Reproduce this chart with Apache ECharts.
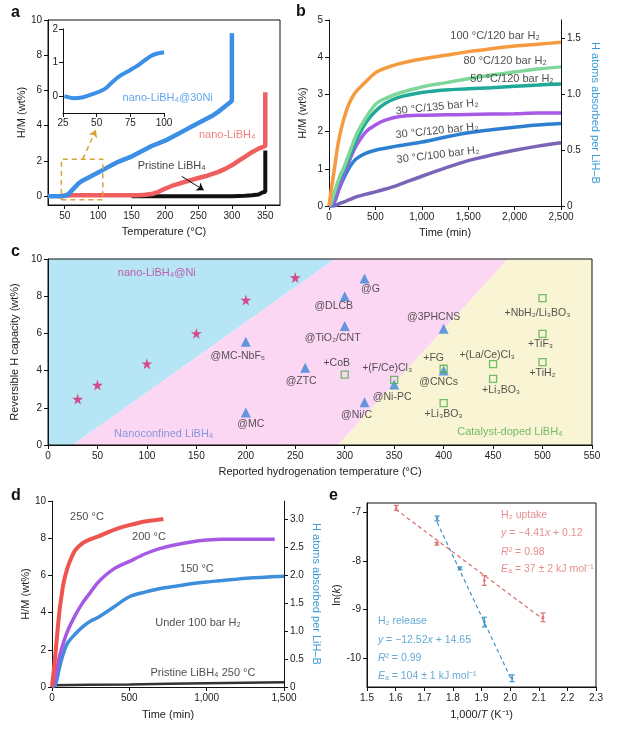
<!DOCTYPE html>
<html><head><meta charset="utf-8">
<script src="https://cdn.jsdelivr.net/npm/echarts@6/dist/echarts.min.js"></script>
<style>html,body{margin:0;padding:0;background:#fff}#c{width:627px;height:732px}</style>
</head><body><div id="c"></div>
<script>
// ---------- Panel a data ----------
const aBlueX = [25,30,35,40,45,50,55,60,65,70,75,80,85,90,95,100,110,120,130,140,150,160,170,180,190,200,210,220,230,240,250,260,270,280,290,300,300];
const aBlueY = [0,0,0,0,0,0.02,0.1,0.3,0.5,0.7,0.85,0.95,1.05,1.15,1.25,1.35,1.55,1.75,1.95,2.1,2.25,2.45,2.65,2.85,3.0,3.15,3.35,3.55,3.75,3.95,4.15,4.35,4.55,4.8,5.1,5.4,9.25];
const aRedX = [40,60,80,100,120,140,160,170,180,190,200,210,220,230,240,250,260,270,280,290,300,310,320,330,340,350,350];
const aRedY = [0,0.05,0.05,0.05,0.05,0.05,0.06,0.08,0.12,0.25,0.42,0.58,0.7,0.82,0.93,1.03,1.13,1.25,1.38,1.55,1.75,2.0,2.25,2.5,2.7,2.85,5.9];
const aBlackX = [150,200,250,300,320,330,340,345,350,350];
const aBlackY = [0,0,0,0,0.02,0.05,0.1,0.2,0.25,2.6];
const inBlueX = [26,32.5,40,47.5,53.8,57.5,61.3,67.5,73.8,80,85,90,95,100];
const inBlueY = [0,-0.06,-0.03,0.07,0.17,0.26,0.41,0.61,0.75,0.9,1.05,1.19,1.27,1.31];
const aTicksX = [50,100,150,200,250,300,350];
const aTicksY = [0,2,4,6,8,10];
const inTicksY = [0,1,2];
const aZoomBox = [[45,-0.2],[107,-0.2],[107,2.1],[45,2.1],[45,-0.2]];

// ---------- Panel b data ----------
const bTime = [0,25,50,75,100,125,150,200,250,300,400,500,600,750,1000,1250,1500,1750,2000,2250,2500];
const b100C120 = [0,0.45,0.85,1.3,1.7,2.0,2.25,2.65,2.92,3.1,3.35,3.58,3.7,3.82,3.95,4.05,4.15,4.23,4.3,4.35,4.4];
const b80C120 = [0,0.1,0.3,0.5,0.68,0.85,0.97,1.3,1.63,1.95,2.38,2.73,2.88,3.03,3.2,3.31,3.42,3.52,3.6,3.68,3.74];
const b50C120 = [0,0.08,0.25,0.45,0.62,0.78,0.9,1.2,1.5,1.8,2.25,2.55,2.75,2.92,3.05,3.12,3.15,3.18,3.22,3.25,3.28];
const b30C135 = [0,0.02,0.1,0.25,0.42,0.6,0.78,1.1,1.4,1.65,2.0,2.18,2.3,2.4,2.44,2.45,2.46,2.47,2.48,2.5,2.5];
const b30C120 = [0,0,0.05,0.2,0.4,0.55,0.7,0.95,1.15,1.28,1.42,1.5,1.55,1.62,1.72,1.85,1.97,2.05,2.12,2.18,2.22];
const b30C100 = [0,0,0,0.02,0.05,0.08,0.1,0.15,0.2,0.25,0.32,0.38,0.45,0.57,0.8,1.02,1.22,1.37,1.5,1.61,1.7];
const bRightTicks = [0,0.5,1.0,1.5];

// ---------- Panel c data ----------
const cStarX = [30,50,100,150,200,250];
const cStarY = [2.47,3.22,4.37,6.0,7.8,9.0];
const cTriNames = ['@G','@DLCB','@TiO₂/CNT','@3PHCNS','@MC-NbF₅','@ZTC','@MC','@Ni/C','@Ni-PC','@CNCs'];
const cTriX = [320,300,300,400,200,260,200,320,350,400];
const cTriY = [8.95,8.0,6.4,6.25,5.55,4.15,1.75,2.3,3.25,4.0];
const cSqNames = ['+CoB','+(F/Ce)Cl₃','+FG','+Li₃BO₃','+(La/Ce)Cl₃','+Li₃BO₃','+NbH₂/Li₃BO₃','+TiF₃','+TiH₂'];
const cSqX = [300,350,400,400,450,450,500,500,500];
const cSqY = [3.78,3.5,4.1,2.25,4.35,3.55,7.9,5.97,4.46];
const cRegionBlue = [[0,0],[25,0],[290,10],[0,10]];
const cRegionPink = [[25,0],[293,0],[465,10],[290,10]];
const cRegionYellow = [[293,0],[550,0],[550,10],[465,10]];

// ---------- Panel d data ----------
const d250X = [0,10,20,30,40,50,60,75,100,125,150,200,250,300,400,500,600,700,720];
const d250Y = [0,0.8,1.6,2.5,3.4,4.2,4.8,5.6,6.4,6.95,7.35,7.75,7.95,8.1,8.45,8.7,8.9,9.0,9.03];
const d200X = [0,10,20,30,50,75,100,150,200,250,300,400,500,600,700,800,900,1000,1100,1200,1300,1440];
const d200Y = [0,0.15,0.45,0.9,1.7,2.4,3.0,3.85,4.55,5.1,5.65,6.35,6.75,7.15,7.45,7.65,7.8,7.9,7.95,7.95,7.95,7.95];
const d150X = [0,20,30,50,75,100,150,200,250,300,400,500,600,700,800,900,1000,1100,1200,1300,1400,1500];
const d150Y = [0,0.1,0.35,1.1,1.85,2.35,2.85,3.25,3.55,3.75,4.3,4.85,5.1,5.3,5.42,5.55,5.65,5.72,5.8,5.87,5.92,5.95];
const dPristX = [0,250,500,750,1000,1250,1500];
const dPristY = [0.1,0.12,0.14,0.17,0.2,0.23,0.25];
const dRightTicks = [0,0.5,1.0,1.5,2.0,2.5,3.0];

// ---------- Panel e data ----------
const eUpX = [1.602,1.744,1.91,2.115];
const eUpY = [-6.9,-7.64,-8.4,-9.16];
const eUpErr = [0.05,0.03,0.1,0.09];
const eRelX = [1.745,1.825,1.91,2.007];
const eRelY = [-7.12,-8.15,-9.26,-10.42];
const eRelErr = [0.05,0.03,0.1,0.07];
const eUpFit = [[1.6,-6.93],[2.115,-9.2]];
const eRelFit = [[1.745,-7.2],[2.007,-10.48]];
const eTicksX = [1.5,1.6,1.7,1.8,1.9,2.0,2.1,2.2,2.3];
const eTicksY = [-10,-9,-8,-7];

// ---------- helpers ----------
const FF = 'Liberation Sans, Arial, sans-serif';
const pair = (xs, ys) => xs.map((x, i) => [x, ys[i]]);
function axis(o) {
  const base = {
    type: 'value', scale: false,
    axisLine: {show: true, onZero: false, lineStyle: {color: '#111', width: 1}},
    axisTick: {show: true, length: 4, inside: false, lineStyle: {color: '#111'}},
    axisLabel: {color: '#222', fontSize: 10, fontFamily: FF, margin: 6},
    splitLine: {show: false},
    nameLocation: 'middle',
    nameTextStyle: {color: '#222', fontSize: 11, fontFamily: FF}
  };
  const r = Object.assign({}, base, o);
  if (o.axisLabel) r.axisLabel = Object.assign({}, base.axisLabel, o.axisLabel);
  if (o.axisTick) r.axisTick = Object.assign({}, base.axisTick, o.axisTick);
  if (o.nameTextStyle) r.nameTextStyle = Object.assign({}, base.nameTextStyle, o.nameTextStyle);
  return r;
}
function line(xi, yi, data, color, width, extra) {
  return Object.assign({type: 'line', xAxisIndex: xi, yAxisIndex: yi, data: data, showSymbol: false, symbol: 'none',
    smooth: 0.3, lineStyle: {color: color, width: width}, itemStyle: {color: color}, silent: true, z: 3}, extra || {});
}
function texts(xi, yi, items) {
  return {type: 'scatter', xAxisIndex: xi, yAxisIndex: yi, symbolSize: 0.1, silent: true, z: 20,
    itemStyle: {color: 'transparent'},
    data: items.map(t => ({value: [t.x, t.y], label: Object.assign({show: true, position: 'inside', formatter: t.text,
      color: t.color || '#222', fontSize: t.size || 11, fontFamily: FF, rotate: t.rotate || 0, align: t.align || 'center',
      rich: t.rich || {}}, t.extra || {})}))};
}
const labelItems = (names, xs, ys, offs) => names.map((n, i) => ({
  value: [xs[i], ys[i]],
  label: {show: true, position: 'inside', formatter: n, offset: offs[i], color: '#2a2a2a', fontSize: 10.5, fontFamily: FF}
}));
const starPath = 'path://M50,0 L61,35 L98,35 L68,57 L79,91 L50,70 L21,91 L32,57 L2,35 L39,35 Z';
const triOffsets = [[6,11],[-11,10],[-12,12],[-10,-12],[-8,14],[-4,13],[5,12],[-8,13],[-2,13],[-5,12]];
const sqOffsets = [[-8,-12],[-7,-12],[-10,-11],[0,11],[-6,-9],[8,11],[-5,15],[-2,10],[0,11]];
const ES = 10.5;
const italicRich = (c) => ({i: {fontStyle: 'italic', color: c, fontSize: ES, fontFamily: FF}, n: {color: c, fontSize: ES, fontFamily: FF}});

const chart = echarts.init(document.getElementById('c'), null, {renderer: 'canvas'});
const option = {
  backgroundColor: '#fff',
  animation: false,
  grid: [
    {left: 48, top: 20, width: 232, height: 185, show: true, borderColor: '#111', borderWidth: 1, backgroundColor: 'transparent', containLabel: false},
    {left: 63, top: 29, width: 101, height: 84, containLabel: false},
    {left: 329, top: 20, width: 232, height: 186, containLabel: false},
    {left: 48, top: 259, width: 544, height: 186, show: true, borderColor: '#111', borderWidth: 1, backgroundColor: 'transparent', z: 10, containLabel: false},
    {left: 52, top: 501, width: 232, height: 186, containLabel: false},
    {left: 367, top: 503, width: 229, height: 184, show: true, borderColor: '#111', borderWidth: 1, backgroundColor: 'transparent', containLabel: false}
  ],
  xAxis: [
    axis({gridIndex: 0, min: 25, max: 372, name: 'Temperature (°C)', nameGap: 21,
      axisLabel: {customValues: aTicksX}, axisTick: {customValues: aTicksX}}),
    axis({gridIndex: 1, min: 25, max: 100, interval: 25, axisLabel: {margin: 5}}),
    axis({gridIndex: 2, min: 0, max: 2500, interval: 500, name: 'Time (min)', nameGap: 21}),
    axis({gridIndex: 3, min: 0, max: 550, interval: 50, z: 10, name: 'Reported hydrogenation temperature (°C)', nameGap: 21}),
    axis({gridIndex: 4, min: 0, max: 1500, interval: 500, name: 'Time (min)', nameGap: 22}),
    axis({gridIndex: 5, min: 1.5, max: 2.3, name: '1,000/{i|T} (K⁻¹)', nameGap: 22,
      nameTextStyle: {rich: {i: {fontStyle: 'italic', fontSize: 11, fontFamily: FF, color: '#222'}}},
      axisLabel: {customValues: eTicksX, formatter: v => v.toFixed(1)}, axisTick: {customValues: eTicksX}})
  ],
  yAxis: [
    axis({gridIndex: 0, min: -0.5, max: 10, name: 'H/M (wt%)', nameGap: 19,
      axisLabel: {customValues: aTicksY}, axisTick: {customValues: aTicksY}}),
    axis({gridIndex: 1, min: -0.5, max: 2, axisLabel: {customValues: inTicksY, margin: 5}, axisTick: {customValues: inTicksY}}),
    axis({gridIndex: 2, min: 0, max: 5, interval: 1, name: 'H/M (wt%)', nameGap: 21}),
    axis({gridIndex: 2, position: 'right', min: 0, max: 1.661, name: 'H atoms absorbed per LiH–B', nameGap: 29, nameRotate: -90,
      nameTextStyle: {color: '#3a9ad9'},
      axisLabel: {customValues: bRightTicks, formatter: v => v === 0 ? '0' : v.toFixed(1)}, axisTick: {customValues: bRightTicks}}),
    axis({gridIndex: 3, min: 0, max: 10, interval: 2, z: 10, name: 'Reversible H capacity (wt%)', nameGap: 23}),
    axis({gridIndex: 4, min: 0, max: 10, interval: 2, name: 'H/M (wt%)', nameGap: 18}),
    axis({gridIndex: 4, position: 'right', min: 0, max: 3.32, name: 'H atoms absorbed per LiH–B', nameGap: 27, nameRotate: -90,
      nameTextStyle: {color: '#3a9ad9'},
      axisLabel: {customValues: dRightTicks, formatter: v => v === 0 ? '0' : v.toFixed(1)}, axisTick: {customValues: dRightTicks}}),
    axis({gridIndex: 5, min: -10.6, max: -6.8, name: 'ln({i|k})', nameGap: 25,
      nameTextStyle: {rich: {i: {fontStyle: 'italic', fontSize: 11, fontFamily: FF, color: '#222'}}},
      axisLabel: {customValues: eTicksY}, axisTick: {customValues: eTicksY}})
  ],
  graphic: [
    {type: 'text', left: 11, top: 5, style: {text: 'a', font: 'bold 16px ' + FF, fill: '#111'}},
    {type: 'text', left: 296, top: 4, style: {text: 'b', font: 'bold 16px ' + FF, fill: '#111'}},
    {type: 'text', left: 11, top: 244, style: {text: 'c', font: 'bold 16px ' + FF, fill: '#111'}},
    {type: 'text', left: 11, top: 488, style: {text: 'd', font: 'bold 16px ' + FF, fill: '#111'}},
    {type: 'text', left: 329, top: 488, style: {text: 'e', font: 'bold 16px ' + FF, fill: '#111'}}
  ],
  series: [
    // ---- a ----
    line(0, 0, pair(aBlackX, aBlackY), '#111', 4, {smooth: false}),
    line(0, 0, pair(aRedX, aRedY), '#ef5f5f', 4.5, {smooth: false}),
    line(0, 0, pair(aBlueX, aBlueY), '#3b8fe6', 4.5, {smooth: false}),
    line(1, 1, pair(inBlueX, inBlueY), '#3b8fe6', 4, {smooth: 0.2}),
    line(0, 0, aZoomBox, '#d9a23a', 1.5, {smooth: false, lineStyle: {color: '#d9a23a', width: 1.5, type: [5, 4]}}),
    {type: 'line', xAxisIndex: 0, yAxisIndex: 0, data: [], silent: true,
      markLine: {silent: true, symbol: ['none', 'arrow'], symbolSize: 7, label: {show: false},
        data: [
          [{coord: [77, 2.1], lineStyle: {color: '#d9a23a', width: 1.5, type: [5, 4]}, itemStyle: {color: '#d9a23a'}}, {coord: [96.5, 3.75]}],
          [{coord: [225, 1.13], lineStyle: {color: '#111', width: 1, type: 'solid'}, itemStyle: {color: '#111'}}, {coord: [258, 0.34]}]
        ]}},
    texts(0, 0, [
      {x: 204, y: 5.6, text: 'nano-LiBH₄@30Ni', color: '#3b8fe6'},
      {x: 293, y: 3.45, text: 'nano-LiBH₄', color: '#ef5f5f'},
      {x: 210, y: 1.7, text: 'Pristine LiBH₄', color: '#111'}
    ]),
    // ---- b ----
    line(2, 2, pair(bTime, b30C100), '#7a64b8', 3.5),
    line(2, 2, pair(bTime, b30C120), '#2d7fd2', 3.5),
    line(2, 2, pair(bTime, b30C135), '#a85ae6', 3.5),
    line(2, 2, pair(bTime, b50C120), '#20a898', 3.5),
    line(2, 2, pair(bTime, b80C120), '#7fd69b', 3.5),
    line(2, 2, pair(bTime, b100C120), '#f59a3e', 3.5),
    texts(2, 2, [
      {x: 1789, y: 4.57, text: '100 °C/120 bar H₂'},
      {x: 1897, y: 3.9, text: '80 °C/120 bar H₂'},
      {x: 1972, y: 3.41, text: '50 °C/120 bar H₂'},
      {x: 1164, y: 2.66, text: '30 °C/135 bar H₂', rotate: 6},
      {x: 1164, y: 2.02, text: '30 °C/120 bar H₂', rotate: 6},
      {x: 1175, y: 1.37, text: '30 °C/100 bar H₂', rotate: 7}
    ]),
    // ---- c ----
    {type: 'custom', xAxisIndex: 3, yAxisIndex: 4, silent: true, z: 1,
      data: [[0, 0], [0, 0], [0, 0]],
      renderItem: (params, api) => {
        const regs = [[cRegionBlue, '#b6e5f6'], [cRegionPink, '#fbd7f3'], [cRegionYellow, '#f8f4d4']];
        const r = regs[params.dataIndex];
        return {type: 'polygon', shape: {points: r[0].map(p => api.coord(p))}, style: {fill: r[1]}};
      }},
    {type: 'scatter', xAxisIndex: 3, yAxisIndex: 4, symbol: starPath, symbolSize: 11, silent: true, z: 5,
      itemStyle: {color: '#d8246f'}, data: pair(cStarX, cStarY)},
    {type: 'scatter', xAxisIndex: 3, yAxisIndex: 4, symbol: 'triangle', symbolSize: 10, silent: true, z: 5,
      itemStyle: {color: '#3d86d8'}, data: labelItems(cTriNames, cTriX, cTriY, triOffsets)},
    {type: 'scatter', xAxisIndex: 3, yAxisIndex: 4, symbol: 'rect', symbolSize: 7, silent: true, z: 6,
      itemStyle: {color: 'rgba(0,0,0,0)', borderColor: '#4fae4a', borderWidth: 1.3}, data: labelItems(cSqNames, cSqX, cSqY, sqOffsets)},
    texts(3, 4, [
      {x: 110, y: 9.25, text: 'nano-LiBH₄@Ni', color: '#c23b98'},
      {x: 117, y: 0.6, text: 'Nanoconfined LiBH₄', color: '#6b84d4'},
      {x: 467, y: 0.7, text: 'Catalyst-doped LiBH₄', color: '#55ae4e'}
    ]),
    // ---- d ----
    line(4, 5, pair(dPristX, dPristY), '#333', 2.5, {smooth: false}),
    line(4, 5, pair(d150X, d150Y), '#3d8fdc', 3.5),
    line(4, 5, pair(d200X, d200Y), '#a65ae4', 3.5),
    line(4, 5, pair(d250X, d250Y), '#ee5450', 4),
    texts(4, 5, [
      {x: 226, y: 9.14, text: '250 °C'},
      {x: 627, y: 8.06, text: '200 °C'},
      {x: 937, y: 6.34, text: '150 °C'},
      {x: 944, y: 3.44, text: 'Under 100 bar H₂'},
      {x: 976, y: 0.75, text: 'Pristine LiBH₄ 250 °C'}
    ]),
    // ---- e ----
    line(5, 7, eUpFit, '#e07b7b', 1.2, {smooth: false, lineStyle: {color: '#d86a6a', width: 1.2, type: [4, 3]}}),
    line(5, 7, eRelFit, '#3f93c8', 1.2, {smooth: false, lineStyle: {color: '#3f93c8', width: 1.2, type: [4, 3]}}),
    ...[[eUpX, eUpY, eUpErr, '#e07070'], [eRelX, eRelY, eRelErr, '#3f93c8']].map(s => ({
      type: 'custom', xAxisIndex: 5, yAxisIndex: 7, silent: true, z: 6,
      data: s[0].map((x, i) => [x, s[1][i], s[2][i]]),
      renderItem: (params, api) => {
        const x = api.value(0), y = api.value(1), e = api.value(2);
        const t = api.coord([x, y + e]), b = api.coord([x, y - e]), c = api.coord([x, y]);
        const st = {stroke: s[3], lineWidth: 1.2};
        return {type: 'group', children: [
          {type: 'line', shape: {x1: t[0], y1: t[1], x2: b[0], y2: b[1]}, style: st},
          {type: 'line', shape: {x1: t[0] - 2.5, y1: t[1], x2: t[0] + 2.5, y2: t[1]}, style: st},
          {type: 'line', shape: {x1: b[0] - 2.5, y1: b[1], x2: b[0] + 2.5, y2: b[1]}, style: st},
          {type: 'circle', shape: {cx: c[0], cy: c[1], r: 1.3}, style: {fill: s[3]}}
        ]};
      }})),
    texts(5, 7, [
      {x: 1.9685, y: -7.04, text: 'H₂ uptake', color: '#e07070', align: 'left', size: ES},
      {x: 1.9685, y: -7.43, text: '{i|y}{n| = −4.41}{i|x}{n| + 0.12}', align: 'left', rich: italicRich('#e07070'), color: '#e07070', size: ES},
      {x: 1.9685, y: -7.82, text: '{i|R}{n|² = 0.98}', align: 'left', rich: italicRich('#e07070'), color: '#e07070', size: ES},
      {x: 1.9685, y: -8.17, text: '{i|E}{n|ₐ = 37 ± 2 kJ mol⁻¹}', align: 'left', rich: italicRich('#e07070'), color: '#e07070', size: ES},
      {x: 1.538, y: -9.24, text: 'H₂ release', color: '#3f93c8', align: 'left', size: ES},
      {x: 1.538, y: -9.63, text: '{i|y}{n| = −12.52}{i|x}{n| + 14.65}', align: 'left', rich: italicRich('#3f93c8'), color: '#3f93c8', size: ES},
      {x: 1.538, y: -10.0, text: '{i|R}{n|² = 0.99}', align: 'left', rich: italicRich('#3f93c8'), color: '#3f93c8', size: ES},
      {x: 1.538, y: -10.37, text: '{i|E}{n|ₐ = 104 ± 1 kJ mol⁻¹}', align: 'left', rich: italicRich('#3f93c8'), color: '#3f93c8', size: ES}
    ])
  ]
};
chart.setOption(option);
</script>
</body></html>
